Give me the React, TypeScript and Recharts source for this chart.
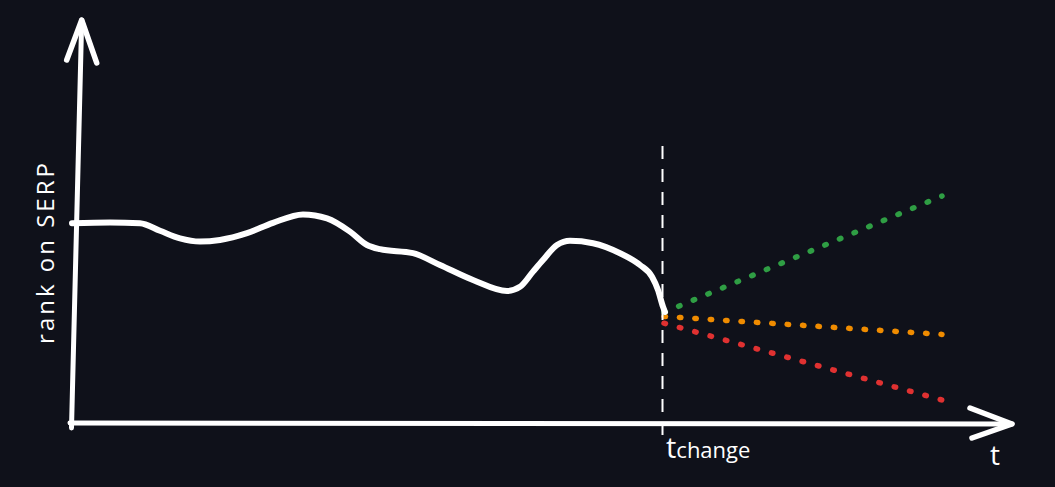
import React from 'react';
import { ComposedChart, Line, XAxis, YAxis } from 'recharts';

// Historical rank curve (t = time units, r = rank height)
const historyT = [0, 3.8, 6.8, 8.8, 10.8, 12.8, 14.8, 17.5, 20.1, 23.1, 25.5, 27.8, 29.5, 30.8, 34.1, 36.8, 40.1, 43.5, 44.8, 46.1, 47.1, 48.5, 49.8, 52.1, 54.8, 56.8, 58.0, 58.6, 59.1, 59.3];
const historyRank = [50.2, 50.4, 50.2, 48.3, 46.4, 45.6, 46.0, 47.7, 50.3, 52.4, 51.4, 48.1, 44.75, 43.7, 42.7, 39.75, 36.0, 33.25, 34.3, 38.1, 41.0, 44.75, 45.8, 45.2, 42.7, 39.75, 36.8, 33.5, 29.3, 28.0];

// Scenario projections after t_change: [start, end]
const scenarioT = [59.2, 87.0];
const upRank = [27.9, 57.0];
const flatRank = [26.9, 22.4];
const downRank = [25.2, 6.0];

// Change marker
const changeT = 59.05;
const changeRankSpan = [69.5, -4];

// Hand-drawn axes (t, r)
const yAxisT = [-0.05, 0.97];
const yAxisR = [-1, 101];
const xAxisT = [-0.2, 94];
const xAxisR = [0.25, 0];
const yArrowT = [-0.53, 0.97, 2.47];
const yArrowR = [91, 101, 90.3];
const xArrowT = [89.8, 94, 90];
const xArrowR = [4, 0, -3.5];

const pts = (ts: number[], rs: number[]) => ts.map((t, i) => ({ t, r: rs[i] }));

const history = pts(historyT, historyRank);
const up = pts(scenarioT, upRank);
const flat = pts(scenarioT, flatRank);
const down = pts(scenarioT, downRank);
const changeLine = pts([changeT, changeT], changeRankSpan);
const yAxisLine = pts(yAxisT, yAxisR);
const xAxisLine = pts(xAxisT, xAxisR);
const yArrow = pts(yArrowT, yArrowR);
const xArrow = pts(xArrowT, xArrowR);

const BG = '#0f111a';
const FONT = '"Open Sans", "Noto Sans", sans-serif';

export default function App() {
  const common = {
    dataKey: 'r',
    dot: false,
    activeDot: false,
    isAnimationActive: false,
    strokeLinecap: 'round' as const,
    strokeLinejoin: 'round' as const,
  };
  return (
    <div style={{ position: 'absolute', left: 0, top: 0, width: 1055, height: 487, background: BG, overflow: 'hidden' }}>
      <ComposedChart width={1055} height={487} margin={{ top: 12, right: 23, bottom: 15, left: 22 }}>
        <XAxis type="number" dataKey="t" domain={[-5, 96]} hide />
        <YAxis type="number" domain={[-12, 103]} hide />
        <Line {...common} data={down} type="linear" stroke="#e03131" strokeWidth={5.5} strokeDasharray="1.5 14.42" />
        <Line {...common} data={flat} type="linear" stroke="#f08c00" strokeWidth={5.5} strokeDasharray="1.5 13.92" />
        <Line {...common} data={up} type="linear" stroke="#2f9e44" strokeWidth={5.5} strokeDasharray="1.5 14.35" />
        <Line {...common} data={changeLine} type="linear" stroke="#ffffff" strokeWidth={2} strokeLinecap="butt" strokeDasharray="13 10" />
        <Line {...common} data={yAxisLine} type="linear" stroke="#ffffff" strokeWidth={5} />
        <Line {...common} data={xAxisLine} type="linear" stroke="#ffffff" strokeWidth={5} />
        <Line {...common} data={yArrow} type="linear" stroke="#ffffff" strokeWidth={5.5} />
        <Line {...common} data={xArrow} type="linear" stroke="#ffffff" strokeWidth={5.5} />
        <Line {...common} data={history} type="monotone" stroke="#ffffff" strokeWidth={6} />
      </ComposedChart>
      <div
        style={{
          position: 'absolute', left: 45, top: 252, transform: 'translate(-50%, -50%) rotate(-90deg)',
          color: '#ffffff', fontFamily: FONT, fontSize: 24, letterSpacing: 3, whiteSpace: 'nowrap', lineHeight: 1,
        }}
      >
        rank on SERP
      </div>
      <div style={{ position: 'absolute', left: 990, top: 440, color: '#ffffff', fontFamily: FONT, fontSize: 28, lineHeight: 1 }}>
        t
      </div>
      <div style={{ position: 'absolute', left: 666, top: 432, color: '#ffffff', fontFamily: FONT, whiteSpace: 'nowrap', lineHeight: 1 }}>
        <span style={{ fontSize: 29 }}>t</span>
        <span style={{ fontSize: 22 }}>change</span>
      </div>
    </div>
  );
}
